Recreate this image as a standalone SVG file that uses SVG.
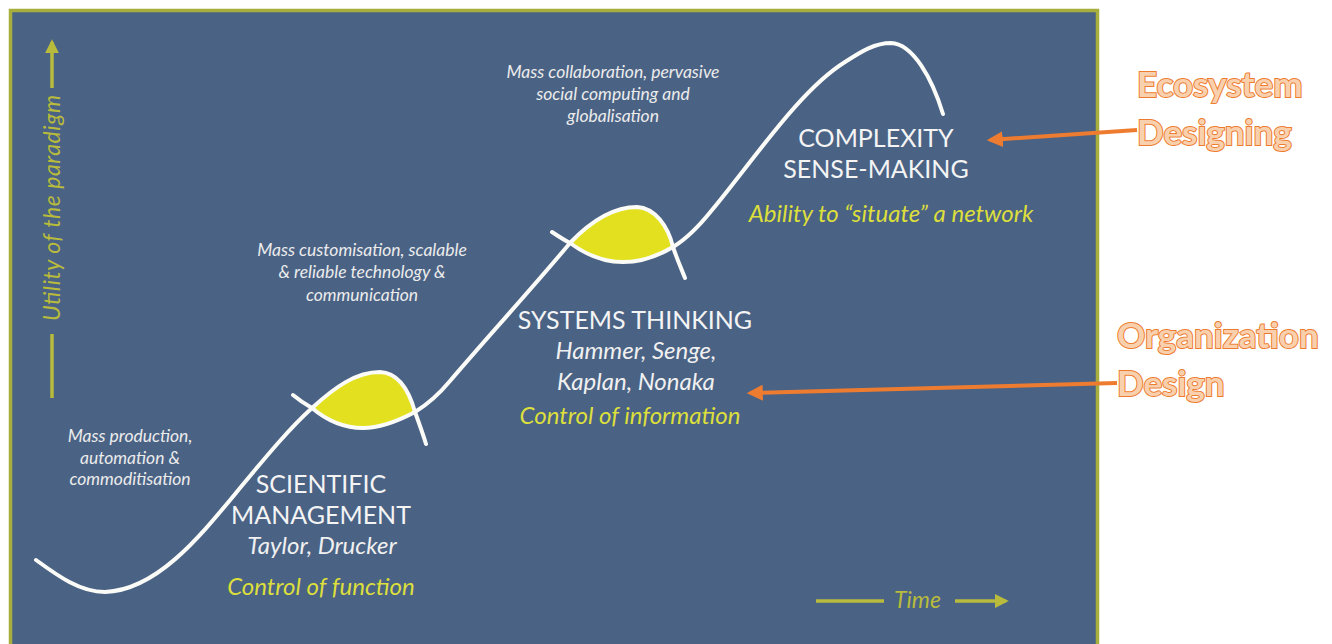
<svg xmlns="http://www.w3.org/2000/svg" width="1332" height="644" viewBox="0 0 1332 644">
  <defs>
    <style>
      .panel { fill: #4a6284; stroke: #a7ae3e; stroke-width: 3.5; }
      .curve { fill: none; stroke: #fbfbf8; stroke-width: 4; stroke-linecap: round; }
      .lens { fill: #e3e11f; stroke: none; }
      .note { font-family: Lato, "Open Sans", sans-serif; font-style: italic; font-size: 17.5px; fill: #ececec; text-anchor: middle; }
      .title { font-family: Lato, "Open Sans", sans-serif; font-size: 25px; fill: #f4f4f4; text-anchor: middle; }
      .names { font-family: Lato, "Open Sans", sans-serif; font-style: italic; font-size: 24px; fill: #f0f0f0; text-anchor: middle; }
      .focus { font-family: Lato, "Open Sans", sans-serif; font-style: italic; font-size: 24px; fill: #dcdf3c; text-anchor: middle; }
      .axis { font-family: Lato, "Open Sans", sans-serif; font-style: italic; font-size: 23px; fill: #b8bb3c; }
      .axisline { stroke: #b8bb3c; stroke-width: 3.5; fill: none; }
      .callout { font-family: Lato, "Open Sans", sans-serif; font-weight: bold; font-size: 35px; fill: #f9d0ae; stroke: #ee7c30; stroke-width: 2; paint-order: stroke; }
      .pointer { stroke: #ee7c30; stroke-width: 4; fill: none; }
    </style>
    <marker id="axisHead" viewBox="0 0 10 10" refX="8" refY="5" markerWidth="4" markerHeight="4" orient="auto-start-reverse">
      <path d="M0,0 L10,5 L0,10 Z" fill="#b8bb3c"/>
    </marker>
    <marker id="orangeHead" viewBox="0 0 10 10" refX="8" refY="5" markerWidth="4" markerHeight="4" orient="auto">
      <path d="M0,0 L10,5 L0,10 Z" fill="#ee7c30"/>
    </marker>
  </defs>

  <rect width="1332" height="644" fill="#ffffff"/>
  <rect id="panel" class="panel" x="10.5" y="10.5" width="1087" height="650"/>

  <!-- axes -->
  <g id="axis-utility">
    <line class="axisline" x1="52" y1="398" x2="52" y2="334"/>
    <line class="axisline" x1="52" y1="88" x2="52" y2="42" marker-end="url(#axisHead)"/>
    <text class="axis" transform="translate(60,321) rotate(-90)" textLength="226" lengthAdjust="spacing">Utility of the paradigm</text>
  </g>
  <g id="axis-time">
    <line class="axisline" x1="816" y1="601" x2="884" y2="601"/>
    <line class="axisline" x1="955" y1="601" x2="1006" y2="601" marker-end="url(#axisHead)"/>
    <text class="axis" x="894" y="608">Time</text>
  </g>

  <!-- highlighted overlaps between successive curves -->
  <g id="lens-1">
    <path class="lens" d="M312,408 C335,387 356,372 380,372 C400,373 410,394 415,412 C398,421 380,428 363,428 C343,428 325,419 312,408 Z"/>
  </g>
  <g id="lens-2">
    <path class="lens" d="M570,243 C590,222 612,207 637,207 C655,208 668,226 673,247 C658,256 642,262 623,262 C603,262 585,254 570,243 Z"/>
  </g>

  <!-- the three S-curves -->
  <g id="connectors">
    <path class="curve" d="M36,560 C58,576 80,592 105,592 C160,590 205,530 245,482 C270,452 290,428 312,408 C335,387 356,372 380,372 C400,373 410,394 415,412 C419,423 423,434 426,444"/>
    <path class="curve" d="M293,395 C299,400 305,404 312,408 C325,419 343,428 363,428 C380,428 398,421 415,412 C428,404 440,393 450,381 C485,340 535,285 570,243 C590,222 612,207 637,207 C655,208 668,226 673,247 C677,259 681,268 685,278"/>
    <path class="curve" d="M552,232 C558,236 564,240 570,243 C585,254 603,262 623,262 C642,262 658,256 673,247 C688,238 700,225 712,210 C755,158 800,90 845,62 C862,51 875,43 891,43 C913,44 932,78 943,114"/>
  </g>

  <g id="era-scientific">
    <text class="note"><tspan x="130" y="442">Mass production,</tspan><tspan x="130" y="464">automation &amp;</tspan><tspan x="130" y="485">commoditisation</tspan></text>
    <text class="title"><tspan x="321" y="493">SCIENTIFIC</tspan><tspan x="321" y="524">MANAGEMENT</tspan></text>
    <text class="names" x="322" y="554">Taylor, Drucker</text>
    <text class="focus" x="321" y="595">Control of function</text>
  </g>

  <g id="era-systems">
    <text class="note"><tspan x="362" y="256">Mass customisation, scalable</tspan><tspan x="362" y="278">&amp; reliable technology &amp;</tspan><tspan x="362" y="301">communication</tspan></text>
    <text class="title" x="635" y="329">SYSTEMS THINKING</text>
    <text class="names"><tspan x="636" y="359">Hammer, Senge,</tspan><tspan x="636" y="390">Kaplan, Nonaka</tspan></text>
    <text class="focus" x="630" y="424">Control of information</text>
  </g>

  <g id="era-complexity">
    <text class="note"><tspan x="613" y="78">Mass collaboration, pervasive</tspan><tspan x="613" y="100">social computing and</tspan><tspan x="613" y="122">globalisation</tspan></text>
    <text class="title"><tspan x="876" y="147">COMPLEXITY</tspan><tspan x="876" y="178">SENSE-MAKING</tspan></text>
    <text class="focus" x="891" y="222">Ability to “situate” a network</text>
  </g>

  <!-- annotations -->
  <g id="label-ecosystem">
    <text class="callout"><tspan x="1137" y="97">Ecosystem</tspan><tspan x="1137" y="145">Designing</tspan></text>
  </g>
  <g id="label-organization">
    <text class="callout"><tspan x="1117" y="348">Organization</tspan><tspan x="1117" y="396">Design</tspan></text>
  </g>
  <g id="annotation-arrows">
    <line class="pointer" x1="1137" y1="130" x2="990" y2="140" marker-end="url(#orangeHead)"/>
    <line class="pointer" x1="1117" y1="383" x2="750" y2="393" marker-end="url(#orangeHead)"/>
  </g>
</svg>
